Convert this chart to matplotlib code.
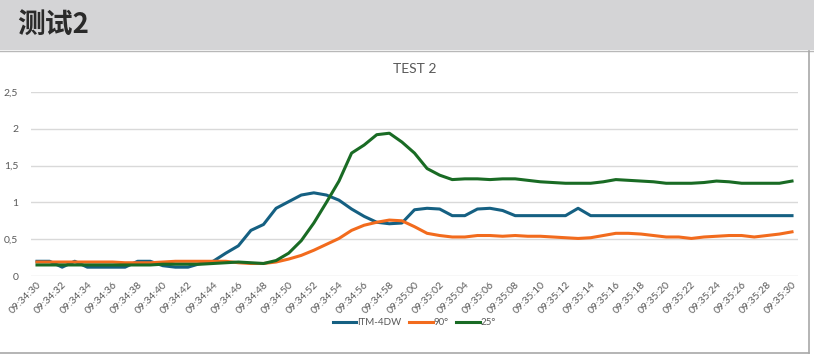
import matplotlib
matplotlib.use('Agg')
import matplotlib.pyplot as plt
from matplotlib.patches import Rectangle

# time labels, one per second
times = ['09:34:%02d' % s for s in range(30, 60)] + ['09:35:%02d' % s for s in range(0, 31)]

itm_4dw = [0.20, 0.20, 0.12, 0.20, 0.12, 0.12, 0.12, 0.12, 0.20, 0.20,
           0.14, 0.12, 0.12, 0.17, 0.20, 0.31, 0.41, 0.62, 0.70, 0.92,
           1.01, 1.10, 1.13, 1.10, 1.03, 0.91, 0.81, 0.73, 0.71, 0.72,
           0.90, 0.92, 0.91, 0.82, 0.82, 0.91, 0.92, 0.89, 0.82, 0.82,
           0.82, 0.82, 0.82, 0.92, 0.82, 0.82, 0.82, 0.82, 0.82, 0.82,
           0.82, 0.82, 0.82, 0.82, 0.82, 0.82, 0.82, 0.82, 0.82, 0.82,
           0.82]
deg_90 = [0.19, 0.19, 0.19, 0.19, 0.19, 0.19, 0.19, 0.18, 0.18, 0.18,
          0.19, 0.20, 0.20, 0.20, 0.20, 0.20, 0.18, 0.17, 0.17, 0.19,
          0.23, 0.28, 0.35, 0.43, 0.51, 0.62, 0.69, 0.73, 0.76, 0.75,
          0.67, 0.58, 0.55, 0.53, 0.53, 0.55, 0.55, 0.54, 0.55, 0.54,
          0.54, 0.53, 0.52, 0.51, 0.52, 0.55, 0.58, 0.58, 0.57, 0.55,
          0.53, 0.53, 0.51, 0.53, 0.54, 0.55, 0.55, 0.53, 0.55, 0.57,
          0.60]
deg_25 = [0.15, 0.15, 0.15, 0.15, 0.15, 0.15, 0.15, 0.15, 0.15, 0.15,
          0.16, 0.16, 0.16, 0.16, 0.17, 0.18, 0.19, 0.18, 0.17, 0.21,
          0.31, 0.48, 0.72, 1.00, 1.29, 1.67, 1.78, 1.92, 1.94, 1.82,
          1.67, 1.46, 1.37, 1.31, 1.32, 1.32, 1.31, 1.32, 1.32, 1.30,
          1.28, 1.27, 1.26, 1.26, 1.26, 1.28, 1.31, 1.30, 1.29, 1.28,
          1.26, 1.26, 1.26, 1.27, 1.29, 1.28, 1.26, 1.26, 1.26, 1.26,
          1.29]

y_ticks = [0, 0.5, 1, 1.5, 2, 2.5]
y_labels = ['0', '0,5', '1', '1,5', '2', '2,5']

plt.rcParams['font.family'] = ['Lato', 'Noto Sans CJK SC', 'DejaVu Sans']

fig = plt.figure(figsize=(8.14, 3.57), dpi=100)

# gray header band and chart frame
fig.patches.append(Rectangle((0, 1 - 50 / 357), 1, 50 / 357, transform=fig.transFigure,
                             facecolor='#d4d4d6', edgecolor='none', zorder=0))
fig.lines.append(plt.Line2D([0, 1], [1 - 51 / 357] * 2, transform=fig.transFigure,
                            color='#b8b8b8', lw=1))
fig.lines.append(plt.Line2D([809 / 814] * 2, [4 / 357, 1 - 51 / 357], transform=fig.transFigure,
                            color='#a8a8a8', lw=1.2))
fig.lines.append(plt.Line2D([0, 809 / 814], [4 / 357] * 2, transform=fig.transFigure,
                            color='#a8a8a8', lw=1.2))
fig.text(17 / 814, 1 - 26 / 357, '测试2', fontsize=20, fontweight='bold', color='#2a2a2a',
         va='center', ha='left', family=['Noto Sans CJK SC', 'DejaVu Sans'])

ax = fig.add_axes([30.7 / 814, 81 / 357, 767.6 / 814, 184 / 357])
x = list(range(len(times)))
ax.plot(x, itm_4dw, color='#156082', lw=2.2, label='ITM-4DW', solid_joinstyle='round')
ax.plot(x, deg_90, color='#f26b1d', lw=2.2, label='90°', solid_joinstyle='round')
ax.plot(x, deg_25, color='#196b24', lw=2.2, label='25°', solid_joinstyle='round')

ax.set_xlim(-0.5, len(times) - 0.5)
ax.set_ylim(0, 2.5)
ax.set_yticks(y_ticks)
ax.set_yticklabels(y_labels)
ax.set_xticks(x[::2])
ax.set_xticklabels(times[::2], rotation=45, ha='right', rotation_mode='anchor')
ax.tick_params(axis='both', length=0, labelsize=7.5, colors='#595959')
ax.tick_params(axis='y', pad=9)
ax.tick_params(axis='x', pad=3)
ax.grid(axis='y', color='#d9d9d9', lw=1)
ax.set_axisbelow(True)
for s in ax.spines.values():
    s.set_visible(False)

ax.set_title('TEST 2', fontsize=10, color='#595959', pad=14)

ax.legend(loc='center', bbox_to_anchor=(0.5, -0.255), ncol=3, frameon=False, fontsize=7,
          handlelength=2.4, handletextpad=0.1, columnspacing=0.8, labelcolor='#595959')

fig.savefig('out.png', dpi=100)
